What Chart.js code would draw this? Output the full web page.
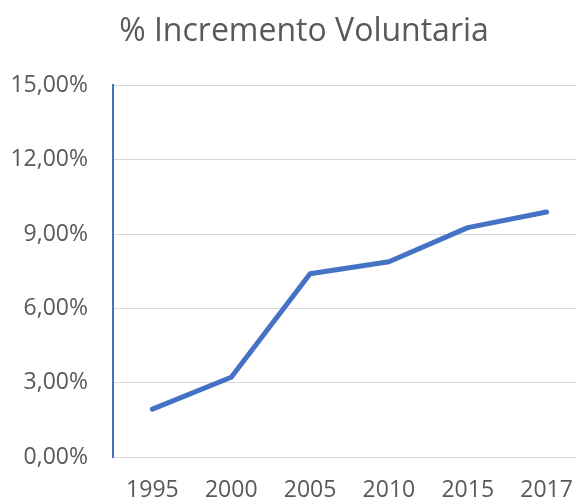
<!DOCTYPE html>
<html>
<head>
<meta charset="utf-8">
<script src="https://cdn.jsdelivr.net/npm/chart.js@4.4.1/dist/chart.umd.min.js"></script>
<style>
    html, body { margin: 0; padding: 0; background: #ffffff; overflow: hidden; }
    #caja { position: relative; width: 608px; height: 498px; }
</style>
</head>
<body>
<div id="caja"><canvas id="lineas"></canvas></div>
<script>
// datos
const anios = ["1995", "2000", "2005", "2010", "2015", "2017"];
const incremento = [1.93, 3.22, 7.40, 7.88, 9.26, 9.89];
const marcasY = [0, 3, 6, 9, 12, 15];

const gris = "#595959";

function cargaGraficoLineas() {
    const datos = {
        labels: anios,
        datasets: [{
            label: "% Incremento Voluntaria",
            data: incremento,
            yAxisID: "y",
            borderColor: "#4472C4",
            backgroundColor: "#4472C4",
            borderWidth: 5,
            borderCapStyle: "round",
            borderJoinStyle: "round",
            pointRadius: 0,
            tension: 0
        }]
    };

    const config = {
        type: "line",
        data: datos,
        options: {
            responsive: true,
            maintainAspectRatio: false,
            animation: false,
            layout: { padding: { left: 0, right: 0, top: 9, bottom: 0 } },
            scales: {
                x: {
                    offset: true,
                    grid: { display: false },
                    border: { color: "#d9d9d9", width: 1 },
                    ticks: { color: gris, padding: 12, font: { family: "Open Sans", size: 23 } },
                    afterFit: (eje) => { eje.height = 41; }
                },
                y: {
                    min: 0,
                    max: 15,
                    afterBuildTicks: (eje) => { eje.ticks = marcasY.map(v => ({ value: v })); },
                    grid: { color: "#d9d9d9", lineWidth: 1, drawTicks: false },
                    border: { color: "#4472C4", width: 2 },
                    ticks: {
                        color: gris,
                        padding: 25,
                        font: { family: "Open Sans", size: 23 },
                        callback: (v) => v.toFixed(2).replace(".", ",") + "%"
                    },
                    afterFit: (eje) => { eje.width = 113; }
                },
                // eje vacio a la derecha, solo para dejar el margen
                margen: {
                    type: "linear",
                    position: "right",
                    grid: { display: false },
                    border: { display: false },
                    ticks: { display: false },
                    afterFit: (eje) => { eje.width = 22; }
                }
            },
            plugins: {
                legend: { display: false },
                tooltip: { enabled: false },
                title: {
                    display: true,
                    text: "% Incremento Voluntaria",
                    color: gris,
                    font: { family: "Open Sans", size: 32, weight: "normal" },
                    padding: { top: 4, bottom: 34 }
                }
            }
        }
    };

    const ctx = document.getElementById("lineas").getContext("2d");
    new Chart(ctx, config);
}

window.onload = cargaGraficoLineas;
</script>
</body>
</html>
